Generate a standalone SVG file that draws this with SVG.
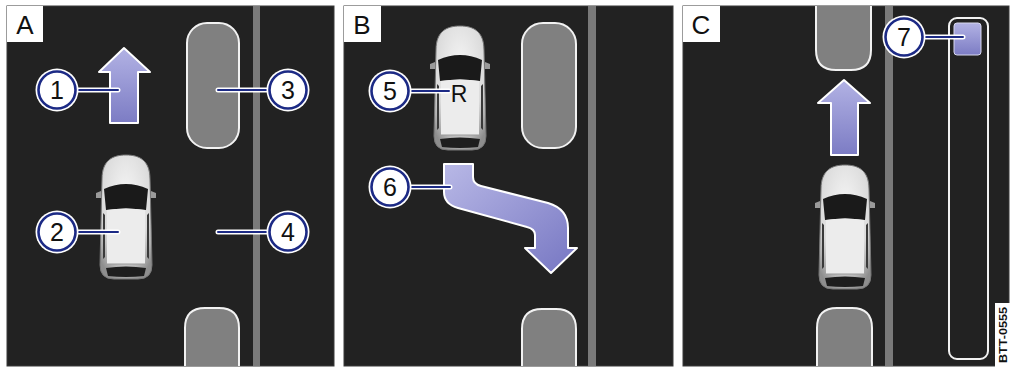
<svg xmlns="http://www.w3.org/2000/svg" width="1013" height="370" viewBox="0 0 1013 370">
  <style>
    .panel { fill: #222222; stroke: #3a3a3a; stroke-width: 1; }
    .tab { fill: #ffffff; }
    .tabtxt { font-family: "Liberation Sans", Arial, sans-serif; font-size: 26px; fill: #111111; text-anchor: middle; }
    .lane { fill: #7a7a7a; }
    .parked { fill: #808080; stroke: #f2f2f2; stroke-width: 2; }
    .move { stroke: #ffffff; stroke-width: 2; stroke-linejoin: round; }
    .halo { fill: #ffffff; }
    .ring { fill: #ffffff; stroke: #1c2a85; stroke-width: 2.6; }
    .num { font-family: "Liberation Sans", Arial, sans-serif; font-size: 25px; fill: #111111; text-anchor: middle; }
    .lead-halo { stroke: #ffffff; stroke-width: 5; stroke-linecap: round; fill: none; }
    .lead { stroke: #1c2a85; stroke-width: 2; stroke-linecap: round; fill: none; }
  </style>
  <defs>
    <linearGradient id="arrowFill" x1="0" y1="0" x2="0" y2="1">
      <stop offset="0" stop-color="#b2b2e4"/>
      <stop offset="1" stop-color="#7c7cc4"/>
    </linearGradient>
    <linearGradient id="bendFill" x1="0" y1="0" x2="1" y2="1">
      <stop offset="0" stop-color="#b8b8e6"/>
      <stop offset="1" stop-color="#7676c2"/>
    </linearGradient>
    <radialGradient id="bodyFill" cx="0.5" cy="0.35" r="0.7">
      <stop offset="0" stop-color="#f6f6f6"/>
      <stop offset="0.65" stop-color="#dcdcdc"/>
      <stop offset="1" stop-color="#8e8e8e"/>
    </radialGradient>
    <!-- top view of a car, front pointing up, centred on 0,0 -->
    <g id="car">
      <path d="M-30,-24 L-25,-26 L-24,-19 L-30,-19 Z" fill="#9a9a9a"/>
      <path d="M30,-24 L25,-26 L24,-19 L30,-19 Z" fill="#9a9a9a"/>
      <path d="M-24,-38 C-24,-57 -13,-62 0,-62 C13,-62 24,-57 24,-38 L26,48 Q26,62 12,62 H-12 Q-26,62 -26,48 Z" fill="url(#bodyFill)" stroke="#777777" stroke-width="1"/>
      <path d="M-22,-28 Q0,-38 22,-28 L20,-7 Q0,-10 -20,-7 Z" fill="#1a1a1a"/>
      <path d="M-19,-7 Q0,-10 19,-7 L19,47 H-19 Z" fill="#ececec"/>
      <path d="M-23,-4 L-21,-2 L-21,40 L-23,42 Z" fill="#3a3a3a"/>
      <path d="M23,-4 L21,-2 L21,40 L23,42 Z" fill="#3a3a3a"/>
      <path d="M-19,47 H19" stroke="#9a9a9a" stroke-width="1"/>
      <path d="M-20,51 Q0,48 20,51 L18,59 Q0,61 -18,59 Z" fill="#1e1e1e"/>
    </g>
  </defs>

  <rect width="1013" height="370" fill="#ffffff"/>

  <!-- panel A -->
  <g id="panel-a">
    <rect class="panel" x="7" y="6" width="327" height="360"/>
    <rect class="tab" x="7" y="6" width="36" height="36"/>
    <text class="tabtxt" x="25" y="34">A</text>
    <rect class="lane" x="253" y="6" width="7" height="360"/>
    <rect class="parked" x="187" y="23" width="52" height="125" rx="20"/>
    <path class="parked" d="M185,366 V328 Q185,308 205,308 H219 Q239,308 239,328 V366"/>
    <path class="move" fill="url(#arrowFill)" d="M124,48 L150,72 H138 V123 H110 V72 H99 Z"/>
    <use href="#car" x="126" y="217"/>
  </g>

  <!-- panel B -->
  <g id="panel-b">
    <rect class="panel" x="344" y="6" width="329" height="360"/>
    <rect class="tab" x="344" y="6" width="37" height="36"/>
    <text class="tabtxt" x="362" y="34">B</text>
    <rect class="lane" x="588" y="6" width="8" height="360"/>
    <rect class="parked" x="522" y="23" width="54" height="125" rx="21"/>
    <path class="parked" d="M522,366 V329 Q522,309 542,309 H556 Q576,309 576,329 V366"/>
    <use href="#car" x="460" y="88"/>
    <text x="459" y="102" font-family="Liberation Sans, Arial, sans-serif" font-size="23" fill="#111111" text-anchor="middle">R</text>
    <path class="move" fill="url(#bendFill)" d="M444,164 H473 V177 Q473,184 481,186 L548,203 Q568,209 568,228 V248 H577 L551,273 L525,248 H535 V235 Q535,229 527,227 L458,208 Q444,204 444,192 Z"/>
  </g>

  <!-- panel C -->
  <g id="panel-c">
    <rect class="panel" x="683" y="6" width="326" height="360"/>
    <rect class="tab" x="683" y="6" width="37" height="36"/>
    <text class="tabtxt" x="701" y="34">C</text>
    <rect class="lane" x="885" y="6" width="8" height="360"/>
    <path class="parked" d="M816,6 V50 Q816,70 836,70 H851 Q871,70 871,50 V6"/>
    <path class="parked" d="M817,366 V328 Q817,308 837,308 H852 Q872,308 872,328 V366"/>
    <path class="move" fill="url(#arrowFill)" d="M844,80 L870,103 H858 V155 H831 V103 H818 Z"/>
    <use href="#car" x="845" y="227"/>
    <rect x="949" y="18" width="39" height="341" rx="8" fill="none" stroke="#f2f2f2" stroke-width="2"/>
    <rect x="954" y="23" width="27" height="32" rx="3" fill="url(#arrowFill)" stroke="#d8d8ee" stroke-width="1"/>
    <rect x="995" y="303" width="15" height="64" fill="#ffffff"/>
    <text transform="translate(1006.5,335) rotate(-90)" font-family="Liberation Sans, Arial, sans-serif" font-size="11" font-weight="bold" fill="#111111" text-anchor="middle" textLength="56" lengthAdjust="spacingAndGlyphs">BTT-0555</text>
  </g>

  <!-- leader lines -->
  <g id="connectors">
    <path class="lead-halo" d="M77,90 H118 M218,90 H268 M77,232 H118 M218,232 H268 M410,91 H449 M410,187 H450 M924,37 H963"/>
    <path class="lead" d="M77,90 H118 M218,90 H268 M77,232 H118 M218,232 H268 M410,91 H449 M410,187 H450 M924,37 H963"/>
  </g>

  <!-- numbered callouts -->
  <g id="label-1"><circle class="halo" cx="57" cy="90" r="21.5"/><circle class="ring" cx="57" cy="90" r="18.5"/><text class="num" x="57" y="99">1</text></g>
  <g id="label-2"><circle class="halo" cx="57" cy="232" r="21.5"/><circle class="ring" cx="57" cy="232" r="18.5"/><text class="num" x="57" y="241">2</text></g>
  <g id="label-3"><circle class="halo" cx="288" cy="90" r="21.5"/><circle class="ring" cx="288" cy="90" r="18.5"/><text class="num" x="288" y="99">3</text></g>
  <g id="label-4"><circle class="halo" cx="288" cy="232" r="21.5"/><circle class="ring" cx="288" cy="232" r="18.5"/><text class="num" x="288" y="241">4</text></g>
  <g id="label-5"><circle class="halo" cx="390" cy="91" r="21.5"/><circle class="ring" cx="390" cy="91" r="18.5"/><text class="num" x="390" y="100">5</text></g>
  <g id="label-6"><circle class="halo" cx="390" cy="187" r="21.5"/><circle class="ring" cx="390" cy="187" r="18.5"/><text class="num" x="390" y="196">6</text></g>
  <g id="label-7"><circle class="halo" cx="904" cy="37" r="21.5"/><circle class="ring" cx="904" cy="37" r="18.5"/><text class="num" x="904" y="46">7</text></g>
</svg>
